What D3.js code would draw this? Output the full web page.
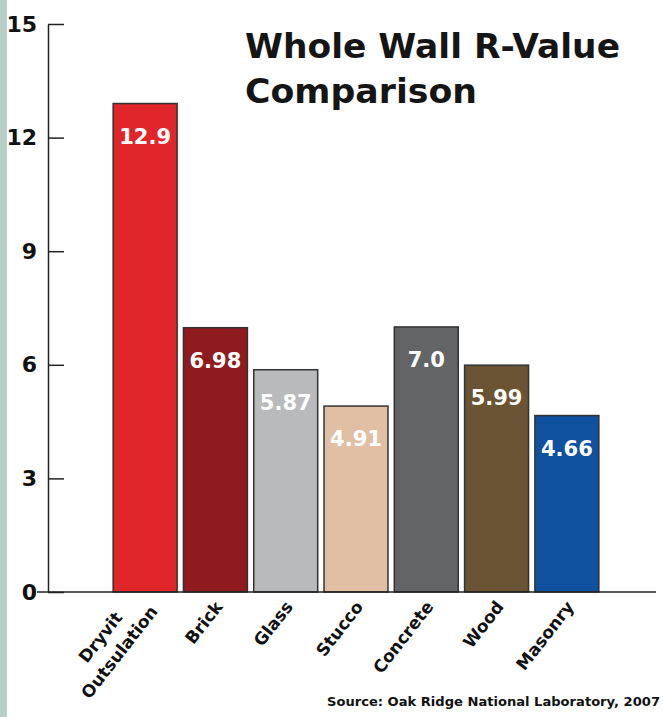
<!DOCTYPE html>
<html>
<head>
<meta charset="utf-8">
<script src="https://cdn.jsdelivr.net/npm/d3@7"></script>
<style>
  html, body { margin: 0; padding: 0; background: #fff; }
  svg { display: block; }
</style>
</head>
<body>
<div id="chart"></div>
<script>
const categories = ['Dryvit Outsulation', 'Brick', 'Glass', 'Stucco', 'Concrete', 'Wood', 'Masonry']
const labelLines = [['Dryvit', 'Outsulation'], ['Brick'], ['Glass'], ['Stucco'], ['Concrete'], ['Wood'], ['Masonry']]
const values = [12.9, 6.98, 5.87, 4.91, 7.0, 5.99, 4.66]
const valueLabels = ['12.9', '6.98', '5.87', '4.91', '7.0', '5.99', '4.66']
const colors = ['#e0262b', '#8f1b1f', '#b9babc', '#e1bfa4', '#636466', '#6b5433', '#0f519f']
const yTicks = [0, 3, 6, 9, 12, 15]

const width = 663, height = 717
const font = 'DejaVu Sans'

const svg = d3.select('#chart').append('svg')
    .attr('width', width)
    .attr('height', height)

// teal strip on the left edge
svg.append('rect')
    .attr('x', 0).attr('y', 0)
    .attr('width', 7).attr('height', height)
    .attr('fill', '#b7cfc7')

const x = d3.scaleBand()
    .domain(categories)
    .range([110, 602])
    .paddingInner(0.09)
    .paddingOuter(0.045)

const y = d3.scaleLinear()
    .domain([0, 15])
    .range([592, 24])

// y axis, ticks pointing into the plot
const yAxis = svg.append('g')
    .attr('transform', 'translate(48,0)')
    .call(d3.axisLeft(y).tickValues(yTicks).tickSizeInner(-16).tickSizeOuter(0).tickPadding(11))
yAxis.select('.domain').attr('stroke', '#222').attr('stroke-width', 1.5)
yAxis.selectAll('.tick line').attr('stroke', '#222').attr('stroke-width', 1.5)
yAxis.selectAll('.tick text')
    .style('font-family', font)
    .style('font-weight', 'bold')
    .style('font-size', '22px')
    .attr('fill', '#111')

// bars
svg.append('g').selectAll('rect')
    .data(categories)
  .enter().append('rect')
    .attr('x', d => x(d))
    .attr('y', (d, i) => y(values[i]))
    .attr('width', x.bandwidth())
    .attr('height', (d, i) => y(0) - y(values[i]))
    .attr('fill', (d, i) => colors[i])
    .attr('stroke', '#333')
    .attr('stroke-width', 1.5)

// value labels inside bars
svg.append('g').selectAll('text')
    .data(categories)
  .enter().append('text')
    .attr('x', d => x(d) + x.bandwidth() / 2)
    .attr('y', (d, i) => y(values[i]) + 40)
    .attr('text-anchor', 'middle')
    .style('font-family', font)
    .style('font-weight', 'bold')
    .style('font-size', '21px')
    .attr('fill', '#fff')
    .text((d, i) => valueLabels[i])

// baseline
svg.append('line')
    .attr('x1', 37).attr('x2', 656)
    .attr('y1', y(0)).attr('y2', y(0))
    .attr('stroke', '#222')
    .attr('stroke-width', 1.5)

// rotated category labels
const xl = svg.append('g').selectAll('text')
    .data(categories)
  .enter().append('text')
    .style('font-family', font)
    .style('font-weight', 'bold')
    .style('font-size', '17px')
    .attr('fill', '#111')
xl.each(function (d, i) {
  const lines = labelLines[i]
  const cx = x(d) + x.bandwidth() / 2
  const t = d3.select(this)
  if (lines.length > 1) {
    // two-line label, lines centred on each other
    t.attr('text-anchor', 'middle')
      .attr('transform', 'translate(' + (cx - 40) + ',641)rotate(-52)')
  } else {
    t.attr('text-anchor', 'end')
      .attr('transform', 'translate(' + (cx + 8) + ',607)rotate(-52)')
  }
  t.selectAll('tspan')
      .data(lines)
    .enter().append('tspan')
      .attr('x', 0)
      .attr('dy', (l, j) => j === 0 ? 0 : 24)
      .text(l => l)
})

// title
const title = svg.append('g')
    .style('font-family', font)
    .style('font-weight', 'bold')
    .style('font-size', '34px')
    .attr('fill', '#151515')
title.append('text')
    .attr('x', 245).attr('y', 58)
    .attr('textLength', 375).attr('lengthAdjust', 'spacingAndGlyphs')
    .text('Whole Wall R-Value')
title.append('text')
    .attr('x', 245).attr('y', 103)
    .attr('textLength', 232).attr('lengthAdjust', 'spacingAndGlyphs')
    .text('Comparison')

// source
svg.append('text')
    .attr('x', 327).attr('y', 706)
    .attr('textLength', 333).attr('lengthAdjust', 'spacingAndGlyphs')
    .style('font-family', font)
    .style('font-weight', 'bold')
    .style('font-size', '12px')
    .attr('fill', '#111')
    .text('Source: Oak Ridge National Laboratory, 2007')
</script>
</body>
</html>
